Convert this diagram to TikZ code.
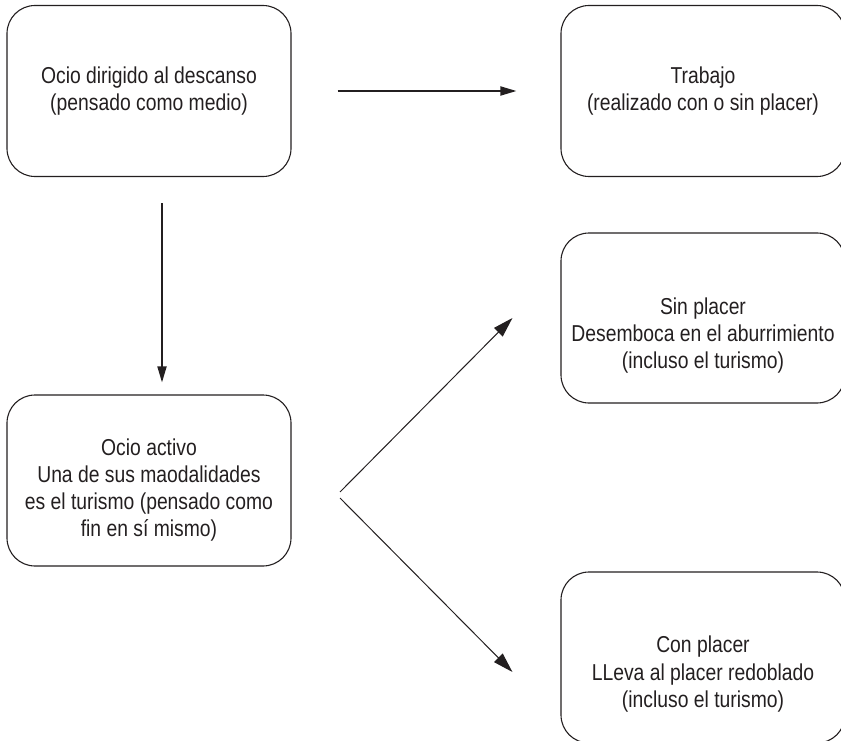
\documentclass[tikz,border=0pt]{standalone}
\usepackage{fontspec}
\setmainfont{Liberation Sans}[FakeStretch=0.84]
\usetikzlibrary{arrows.meta}
\definecolor{ink}{HTML}{231F20}

\begin{document}
\begin{tikzpicture}[x=1pt,y=-1pt,
    box/.style={draw=ink,line width=1.1pt,rounded corners=28pt,
      minimum width=284pt,minimum height=171pt,align=center,text=ink,
      font=\fontsize{23}{27.2}\selectfont},
    flecha/.style={ink,line width=1.8pt,-{Triangle[length=16pt,width=9pt]}},
    diagonal/.style={ink,line width=1pt,-{Triangle[length=20pt,width=12pt]}}]
  \useasboundingbox (0,0) rectangle (841,741);
  % cajas
  \node[box] (descanso) at (149,91) {Ocio dirigido al descanso\\(pensado como medio)};
  \node[box] (trabajo) at (703,91) {Trabajo\\(realizado con o sin placer)};
  \node[box] (activo) at (149,480.5) {\rule{0pt}{36pt}Ocio activo\\Una de sus maodalidades\\
    es el turismo (pensado como\\fin en sí mismo)};
  \node[box,minimum height=170pt] (sinplacer) at (703,318) {\rule{0pt}{52pt}Sin placer\\
    Desemboca en el aburrimiento\\(incluso el turismo)};
  \node[box] (conplacer) at (703,657.5) {\rule{0pt}{50pt}Con placer\\
    LLeva al placer redoblado\\(incluso el turismo)};
  % flechas
  \draw[flecha,shorten <=46pt,shorten >=44pt] (descanso.east) -- (trabajo.west);
  \draw[flecha,shorten <=26pt,shorten >=12pt] ([xshift=13pt]descanso.south) -- ([xshift=13pt]activo.north);
  \coordinate (arriba) at (340,492);
  \coordinate (abajo) at (340,498);
  \draw[diagonal] (arriba) -- ([xshift=-48pt]sinplacer.west);
  \draw[diagonal] (abajo) -- ([xshift=-48pt,yshift=-14.5pt]conplacer.west);
\end{tikzpicture}
\end{document}
